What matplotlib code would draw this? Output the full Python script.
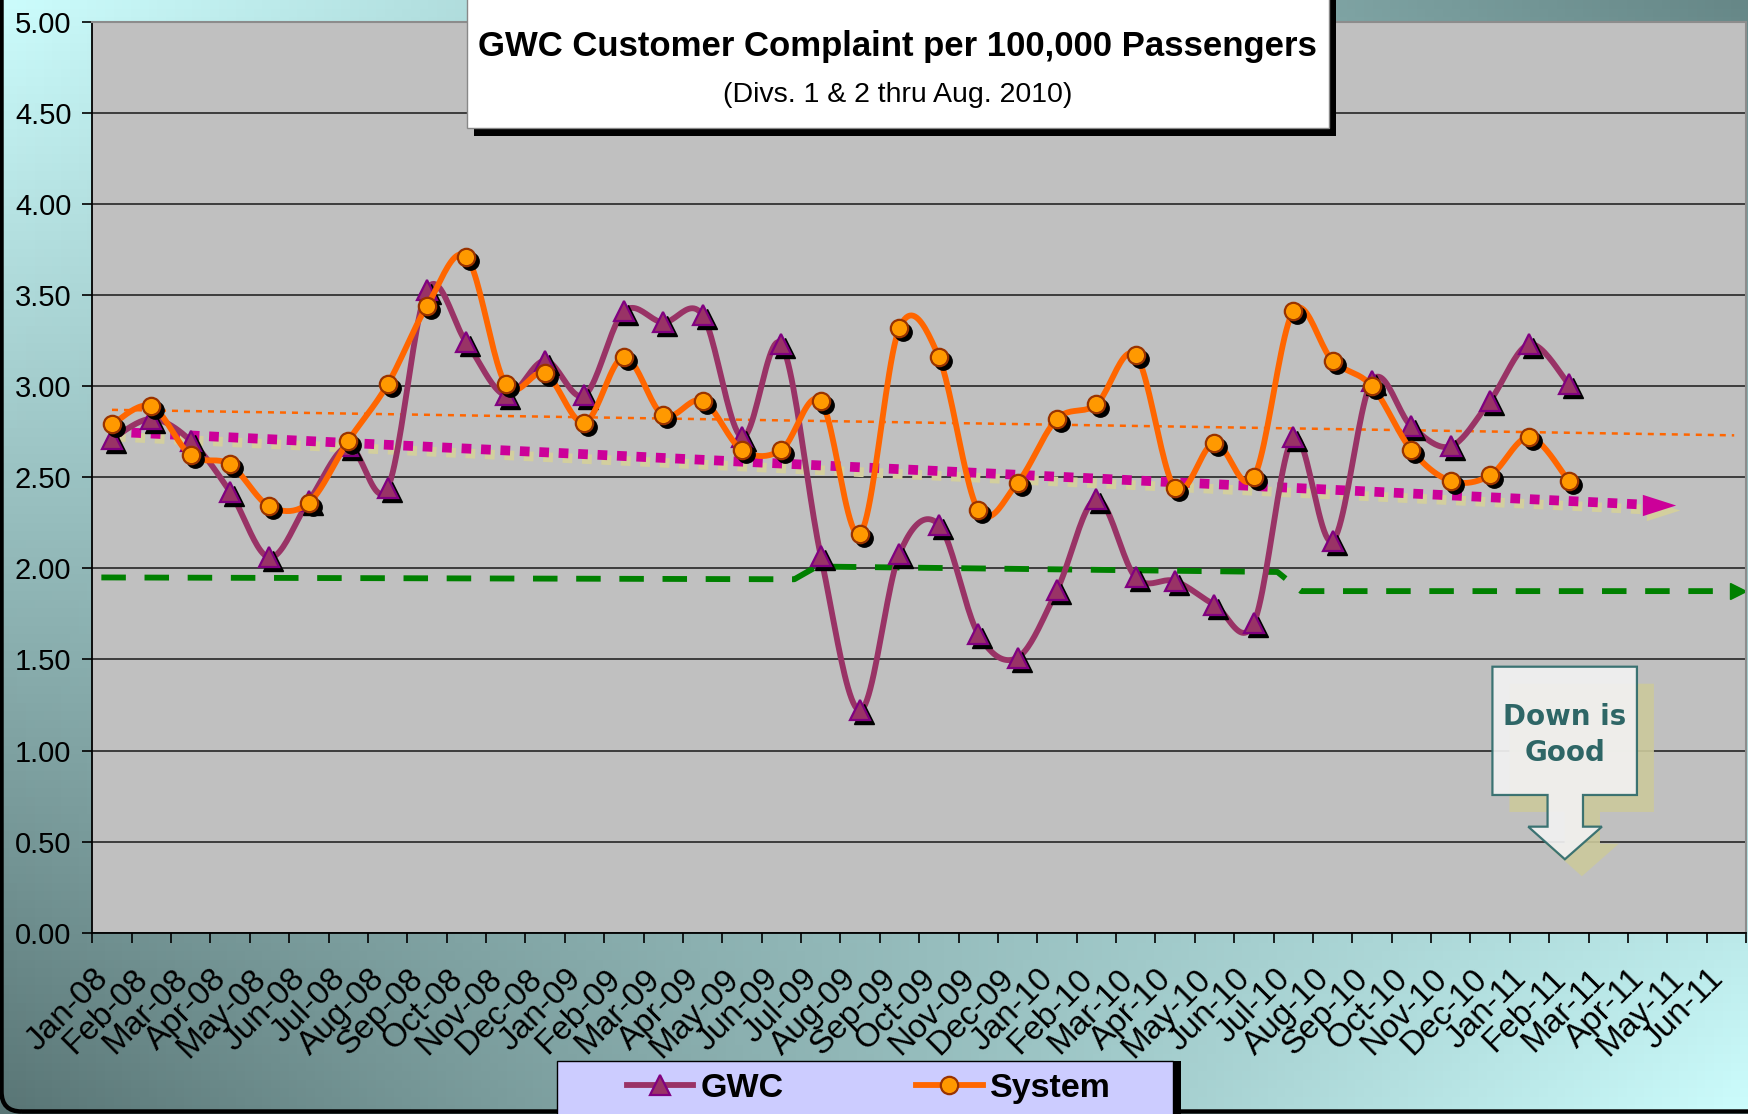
import numpy as np
import matplotlib
matplotlib.use("Agg")
import matplotlib.pyplot as plt
from matplotlib import transforms
from matplotlib.patches import Rectangle, Polygon, FancyBboxPatch
from matplotlib.lines import Line2D

plt.rcParams["font.family"] = ["Liberation Sans", "DejaVu Sans"]

# --- data ---
months = [
    "Jan-08", "Feb-08", "Mar-08", "Apr-08", "May-08", "Jun-08", "Jul-08", "Aug-08",
    "Sep-08", "Oct-08", "Nov-08", "Dec-08", "Jan-09", "Feb-09", "Mar-09", "Apr-09",
    "May-09", "Jun-09", "Jul-09", "Aug-09", "Sep-09", "Oct-09", "Nov-09", "Dec-09",
    "Jan-10", "Feb-10", "Mar-10", "Apr-10", "May-10", "Jun-10", "Jul-10", "Aug-10",
    "Sep-10", "Oct-10", "Nov-10", "Dec-10", "Jan-11", "Feb-11", "Mar-11", "Apr-11",
    "May-11", "Jun-11",
]
gwc = [2.71, 2.82, 2.70, 2.42, 2.06, 2.37, 2.67, 2.44, 3.53, 3.24, 2.95, 3.14,
       2.95, 3.41, 3.35, 3.39, 2.72, 3.23, 2.07, 1.22, 2.08, 2.24, 1.64, 1.51,
       1.88, 2.38, 1.95, 1.93, 1.80, 1.70, 2.72, 2.15, 3.03, 2.78, 2.67, 2.92,
       3.23, 3.01]
system = [2.79, 2.89, 2.62, 2.57, 2.34, 2.36, 2.70, 3.01, 3.44, 3.71, 3.01, 3.07,
          2.80, 3.16, 2.84, 2.92, 2.65, 2.65, 2.92, 2.19, 3.32, 3.16, 2.32, 2.47,
          2.82, 2.90, 3.17, 2.44, 2.69, 2.50, 3.41, 3.14, 3.00, 2.65, 2.48, 2.51,
          2.72, 2.48]

# goal line (step changes by period) and the two trend lines
goal_x = [-0.27, 17.33, 17.9, 29.6, 30.2, 41.3]
goal_y = [1.95, 1.94, 2.01, 1.98, 1.875, 1.875]
gwc_trend_x = [0, 38.9]
gwc_trend_y = [2.75, 2.35]
gwc_trend_tip = 39.7
sys_trend_x = [0, 41.2]
sys_trend_y = [2.87, 2.73]

# --- colours ---
GWC_LINE = "#993366"
GWC_EDGE = "#800080"
SYS_LINE = "#ff6600"
SYS_FILL = "#ff9900"
SYS_EDGE = "#993300"
GOAL = "#008000"
TREND = "#cc0099"
TREND_SHADOW = "#d3cf9e"
PLOT_BG = "#c0c0c0"

W, H = 1749, 1114
LW = 4.2


def smooth(values, n=24):
    """Excel-style smoothed line (Catmull-Rom Bezier through the points)."""
    pts = np.column_stack([np.arange(len(values)), values]).astype(float)
    P = np.vstack([pts[0], pts, pts[-1]])
    t = np.linspace(0, 1, n)[:, None]
    out = []
    for i in range(1, len(P) - 2):
        p0, p1, p2, p3 = P[i - 1], P[i], P[i + 1], P[i + 2]
        c1 = p1 + (p2 - p0) / 6
        c2 = p2 - (p3 - p1) / 6
        seg = (1 - t) ** 3 * p1 + 3 * (1 - t) ** 2 * t * c1 \
            + 3 * (1 - t) * t ** 2 * c2 + t ** 3 * p2
        out.append(seg if i == 1 else seg[1:])
    return np.vstack(out)


fig = plt.figure(figsize=(W / 100, H / 100), dpi=100)

# background gradient + rounded frame
bg = fig.add_axes([0, 0, 1, 1], zorder=-10)
bg.set_xlim(0, W)
bg.set_ylim(0, H)
bg.axis("off")
u, v = np.meshgrid(np.linspace(0, 1, 200), np.linspace(0, 1, 130))
TL = np.array([0.80, 0.99, 0.99])
TR = np.array([0.40, 0.53, 0.53])
BL = np.array([0.35, 0.46, 0.46])
BR = np.array([0.80, 0.99, 0.99])
img = ((1 - u) * v)[..., None] * TL + (u * v)[..., None] * TR \
    + ((1 - u) * (1 - v))[..., None] * BL + (u * (1 - v))[..., None] * BR
bg.imshow(img, extent=(0, W, 0, H), origin="lower", aspect="auto")
bg.add_patch(FancyBboxPatch((1.5, 2.5), W + 30, H + 30,
                            boxstyle="round,pad=0,rounding_size=20",
                            fc="none", ec="black", lw=3.2, clip_on=False))

# main plot area
ax = fig.add_axes([92.3 / W, 1 - 932.7 / H, (1746 - 92.3) / W, (932.7 - 21.8) / H])
ax.set_facecolor(PLOT_BG)
ax.set_xlim(-0.5, len(months) - 0.5)
ax.set_ylim(0, 5)
ax.set_yticks(np.arange(0, 5.01, 0.5))
ax.set_yticklabels([f"{t:.2f}" for t in np.arange(0, 5.01, 0.5)])
ax.yaxis.grid(True, color="#262626", lw=1.2)
ax.set_axisbelow(True)
ax.tick_params(axis="y", length=7, width=1.2, pad=8, labelsize=21)

# tick marks between categories, month labels placed under each category
ax.set_xticks(np.arange(-0.5, len(months), 1))
ax.set_xticklabels([])
ax.tick_params(axis="x", which="major", length=7, width=1.2)
lab_tr = transforms.blended_transform_factory(ax.transData, ax.transAxes) \
    + transforms.ScaledTranslation(-0.19, -0.305, fig.dpi_scale_trans)
for i, m in enumerate(months):
    ax.text(i, 0, m, transform=lab_tr, rotation=45, ha="right", va="top",
            rotation_mode="anchor", fontsize=24, clip_on=False)

for side in ("left", "bottom"):
    ax.spines[side].set_color("black")
    ax.spines[side].set_linewidth(1.3)
for side in ("top", "right"):
    ax.spines[side].set_color("#8c8c8c")
    ax.spines[side].set_linewidth(1.5)

shadow_tr = transforms.offset_copy(ax.transData, fig=fig, x=4, y=-4, units="dots")
beige_tr = transforms.offset_copy(ax.transData, fig=fig, x=4, y=-5, units="dots")

# goal line
ax.plot(goal_x, goal_y, color=GOAL, lw=4.2, ls=(0, (4.2, 3.2)), zorder=2,
        solid_capstyle="butt", dash_capstyle="butt")
ax.plot([goal_x[-1]], [goal_y[-1]], marker=">", ms=12, color=GOAL, zorder=2)

# system trend (thin orange dots)
ax.plot(sys_trend_x, sys_trend_y, color=SYS_LINE, lw=1.8, ls=(0, (2.4, 2.4)),
        zorder=2, dash_capstyle="butt")

# gwc trend (fat magenta dots with a beige shadow and arrow head)
head = [(-1, -0.64), (1, 0), (-1, 0.64)]
slope = (gwc_trend_y[1] - gwc_trend_y[0]) / (gwc_trend_x[1] - gwc_trend_x[0])
head_x = gwc_trend_tip - 0.42
head_y = gwc_trend_y[1] + slope * (head_x - gwc_trend_x[1])
for tr, col, z in ((beige_tr, TREND_SHADOW, 2.5), (ax.transData, TREND, 3)):
    ax.plot(gwc_trend_x, gwc_trend_y, color=col, lw=7, ls=(0, (1.0, 1.0)),
            dash_capstyle="butt", transform=tr, zorder=z)
    ax.plot([head_x], [head_y], marker=head, ms=24, color=col,
            mec="none", transform=tr, zorder=z)

# GWC series
x = np.arange(len(gwc))
curve = smooth(gwc)
ax.plot(curve[:, 0], curve[:, 1], color=GWC_LINE, lw=LW, zorder=4,
        solid_capstyle="round")
ax.plot(x, gwc, ls="none", marker="^", ms=14, color="black", mec="black",
        transform=shadow_tr, zorder=4.1)
ax.plot(x, gwc, ls="none", marker="^", ms=14, mfc=GWC_LINE, mec=GWC_EDGE,
        mew=1.6, zorder=4.2)

# System series
x = np.arange(len(system))
curve = smooth(system)
ax.plot(curve[:, 0], curve[:, 1], color=SYS_LINE, lw=LW, zorder=5,
        solid_capstyle="round")
ax.plot(x, system, ls="none", marker="o", ms=12.5, color="black", mec="black",
        transform=shadow_tr, zorder=5.1)
ax.plot(x, system, ls="none", marker="o", ms=12.5, mfc=SYS_FILL, mec=SYS_EDGE,
        mew=1.6, zorder=5.2)

# "Down is Good" callout
callout = [(35.06, 1.46), (38.73, 1.46), (38.73, 0.756), (37.36, 0.756),
           (37.36, 0.582), (37.84, 0.582), (36.9, 0.403), (35.97, 0.582),
           (36.46, 0.582), (36.46, 0.756), (35.06, 0.756)]
call_shadow_tr = transforms.offset_copy(ax.transData, fig=fig, x=17, y=-17,
                                        units="dots")
ax.add_patch(Polygon(callout, closed=True, fc="#ccc99c", ec="none", alpha=0.9,
                     transform=call_shadow_tr, zorder=6))
ax.add_patch(Polygon(callout, closed=True, fc="#f1f1f1", ec="#2f6b6b", lw=1.6,
                     alpha=0.93, zorder=6.1))
ax.text(36.9, 1.085, "Down is\nGood", ha="center", va="center", fontsize=20,
        fontweight="bold", color="#2e6666", family="DejaVu Sans",
        linespacing=1.35, zorder=6.2)

# title box
tb = (467 / W, 1 - 128 / H, 862 / W, 140 / H)
fig.patches.append(Rectangle((tb[0] + 7 / W, tb[1] - 8 / H), tb[2], tb[3],
                             transform=fig.transFigure, fc="black", ec="none",
                             zorder=20))
fig.patches.append(Rectangle(tb[:2], tb[2], tb[3], transform=fig.transFigure,
                             fc="white", ec="#888888", lw=1, zorder=21))
fig.text(0.513, 0.958, "GWC Customer Complaint per 100,000 Passengers",
         ha="center", va="center", fontsize=25, fontweight="bold", zorder=22)
fig.text(0.513, 0.915, "(Divs. 1 & 2 thru Aug. 2010)", ha="center",
         va="center", fontsize=20.5, zorder=22)

# legend box
lb = (557 / W, -0.02, (1173 - 557) / W, (1114 - 1061) / H + 0.02)
fig.patches.append(Rectangle((lb[0] + 8 / W, lb[1]), lb[2], lb[3],
                             transform=fig.transFigure, fc="black", ec="none",
                             zorder=20))
fig.patches.append(Rectangle(lb[:2], lb[2], lb[3], transform=fig.transFigure,
                             fc="#ccccff", ec="black", lw=1, zorder=21))
handles = [
    Line2D([], [], color=GWC_LINE, lw=LW, marker="^", ms=14, mfc=GWC_LINE,
           mec=GWC_EDGE, mew=1.6),
    Line2D([], [], color=SYS_LINE, lw=LW, marker="o", ms=12.5, mfc=SYS_FILL,
           mec=SYS_EDGE, mew=1.6),
]
leg = fig.legend(handles, ["GWC", "System"], loc="center",
                 bbox_to_anchor=(0.4966, 0.0233), ncol=2, frameon=False,
                 prop={"size": 24.5, "weight": "bold"}, handlelength=1.96,
                 handletextpad=0.2, columnspacing=3.9, borderpad=0)
leg.set_zorder(22)

fig.savefig("out.png", dpi=100)
